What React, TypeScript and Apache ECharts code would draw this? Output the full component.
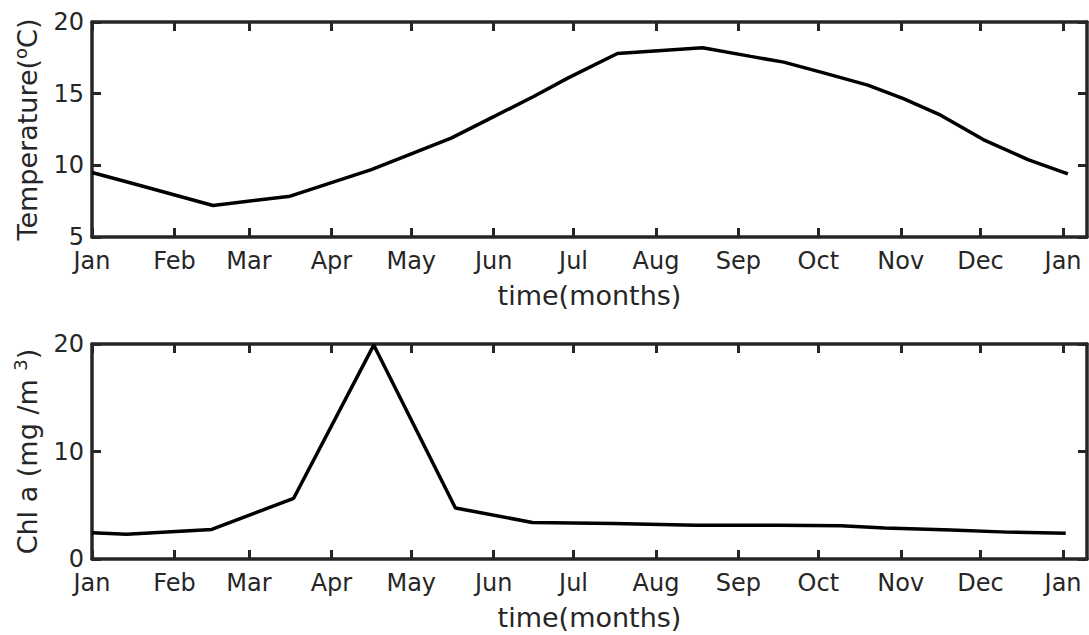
import React, { useEffect, useRef } from "react";
import * as echarts from "echarts";

const monthLabels = ["Jan", "Feb", "Mar", "Apr", "May", "Jun", "Jul", "Aug", "Sep", "Oct", "Nov", "Dec", "Jan"];
const monthStartDays = [0, 31, 59, 90, 120, 151, 181, 212, 243, 273, 304, 334, 365];

const tempDays = [0, 15, 45.5, 74.5, 105, 135, 151, 166, 179, 197.5, 229.5, 247.6, 260, 275, 291.6, 305, 319, 335, 351.8, 366.8];
const tempValues = [9.5, 8.75, 7.2, 7.85, 9.7, 11.9, 13.4, 14.8, 16.1, 17.8, 18.2, 17.6, 17.2, 16.45, 15.6, 14.65, 13.5, 11.8, 10.4, 9.4];

const chlDays = [0, 13, 45, 75.8, 105.9, 136.6, 165.5, 196, 227, 258, 281.5, 298, 323, 344, 366];
const chlValues = [2.45, 2.3, 2.75, 5.65, 19.9, 4.75, 3.4, 3.3, 3.15, 3.15, 3.1, 2.88, 2.7, 2.5, 2.4];

const AX = "#262626";
const FONT = "DejaVu Sans";

export default function App() {
  const ref = useRef<HTMLDivElement>(null);
  useEffect(() => {
    if (!ref.current) return;
    const chart = echarts.init(ref.current, null, { renderer: "svg" });
    const xMin = 0;
    const xMax = 374;
    const monthFmt = (v: number) => {
      const i = monthStartDays.indexOf(v);
      return i >= 0 ? monthLabels[i] : "";
    };
    const xBottom = (gridIndex: number) => ({
      type: "value",
      gridIndex,
      min: xMin,
      max: xMax,
      position: "bottom",
      name: "time(months)",
      nameLocation: "middle",
      nameGap: 45,
      nameTextStyle: { fontFamily: FONT, fontSize: 27, color: AX },
      axisLine: { show: true, onZero: false, lineStyle: { color: AX, width: 3.5 } },
      axisTick: { show: true, inside: true, length: 9, lineStyle: { color: AX, width: 3 }, customValues: monthStartDays },
      axisLabel: { show: true, margin: 12, fontFamily: FONT, fontSize: 24, color: AX, customValues: monthStartDays, formatter: monthFmt },
      splitLine: { show: false },
    });
    const xTop = (gridIndex: number) => ({
      type: "value",
      gridIndex,
      min: xMin,
      max: xMax,
      position: "top",
      axisLine: { show: true, onZero: false, lineStyle: { color: AX, width: 3.5 } },
      axisTick: { show: true, inside: true, length: 9, lineStyle: { color: AX, width: 3 }, customValues: monthStartDays },
      axisLabel: { show: false },
      splitLine: { show: false },
    });
    const yLeft = (gridIndex: number, min: number, max: number, interval: number, name: string, rich: any) => ({
      type: "value",
      gridIndex,
      min,
      max,
      interval,
      position: "left",
      name,
      nameLocation: "middle",
      nameGap: 49,
      nameTextStyle: { fontFamily: FONT, fontSize: 27, color: AX, rich },
      axisLine: { show: true, onZero: false, lineStyle: { color: AX, width: 3.5 } },
      axisTick: { show: true, inside: true, length: 9, lineStyle: { color: AX, width: 3 } },
      axisLabel: { show: true, inside: false, margin: 8, fontFamily: FONT, fontSize: 24, color: AX },
      splitLine: { show: false },
    });
    const yRight = (gridIndex: number, min: number, max: number, interval: number) => ({
      type: "value",
      gridIndex,
      min,
      max,
      interval,
      position: "right",
      axisLine: { show: true, onZero: false, lineStyle: { color: AX, width: 3.5 } },
      axisTick: { show: true, inside: true, length: 9, lineStyle: { color: AX, width: 3 } },
      axisLabel: { show: false },
      splitLine: { show: false },
    });
    const supRich = {
      sup: { fontFamily: FONT, fontSize: 18, color: AX, verticalAlign: "top", lineHeight: 14 },
      n: { fontFamily: FONT, fontSize: 27, color: AX, lineHeight: 32 },
    };
    chart.setOption({
      animation: false,
      backgroundColor: "#ffffff",
      grid: [
        { left: 92, right: 2, top: 22, height: 215, containLabel: false },
        { left: 92, right: 2, top: 344, height: 215, containLabel: false },
      ],
      xAxis: [xBottom(0), xTop(0), xBottom(1), xTop(1)],
      yAxis: [
        yLeft(0, 5, 20, 5, "{n|Temperature(}{sup|o}{n|C)}", supRich),
        yRight(0, 5, 20, 5),
        yLeft(1, 0, 20, 10, "{n|Chl a (mg /m }{sup|3}{n|)}", supRich),
        yRight(1, 0, 20, 10),
      ],
      series: [
        {
          type: "line",
          xAxisIndex: 0,
          yAxisIndex: 0,
          data: tempDays.map((d, i) => [d, tempValues[i]]),
          showSymbol: false,
          symbol: "none",
          lineStyle: { color: "#000000", width: 3.5 },
        },
        {
          type: "line",
          xAxisIndex: 2,
          yAxisIndex: 2,
          data: chlDays.map((d, i) => [d, chlValues[i]]),
          showSymbol: false,
          symbol: "none",
          lineStyle: { color: "#000000", width: 3.5 },
        },
      ],
    });
    return () => chart.dispose();
  }, []);
  return <div ref={ref} style={{ position: "fixed", left: 0, top: 0, width: 1089, height: 635, background: "#fff" }} />;
}
